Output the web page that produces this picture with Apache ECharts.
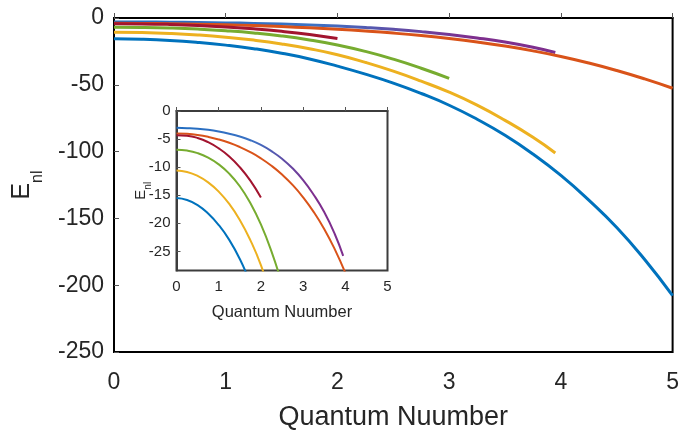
<!DOCTYPE html>
<html>
<head>
<meta charset="utf-8">
<script src="https://cdn.jsdelivr.net/npm/echarts@6/dist/echarts.min.js"></script>
<style>
  html, body { margin: 0; padding: 0; background: #fff; }
  #chart { width: 682px; height: 436px; }
</style>
</head>
<body>
<div id="chart"></div>
<script>
// quantum number samples (x) and energies E_nl
const qnLong = [0, 0.25, 0.5, 0.75, 1, 1.25, 1.5, 1.75, 2, 2.25, 2.5, 2.75, 3, 3.25, 3.5, 3.75, 4, 4.25, 4.5, 4.75, 5]
const qnFour = [0, 0.25, 0.5, 0.75, 1, 1.25, 1.5, 1.75, 2, 2.25, 2.5, 2.75, 3, 3.25, 3.5, 3.75, 3.95]
const qnThree = [0, 0.25, 0.5, 0.75, 1, 1.25, 1.5, 1.75, 2, 2.25, 2.5, 2.75, 3]
const qnTwo = [0, 0.25, 0.5, 0.75, 1, 1.25, 1.5, 1.75, 2]

const blueE = [-15.5, -15.85, -16.75, -18.25, -20.3, -22.95, -26.35, -30.65, -36.05, -42.05, -48.75,
  -56.5, -65.3, -75.8, -87.8, -101.8, -117.8, -136.3, -156.8, -180.8, -207.8]
const orangeE = [-4.0, -4.07, -4.27, -4.6, -5.06, -5.66, -6.41, -7.33, -8.43, -9.75, -11.31,
  -13.16, -15.36, -17.96, -21.01, -24.61, -28.81, -33.71, -39.31, -45.61, -52.6]
const yellowE = [-10.6, -10.85, -11.55, -12.7, -14.35, -16.55, -19.4, -23.0, -27.45, -33.2, -39.8,
  -47.3, -55.5, -65.2, -76.6, -89.3, -101]
const purpleE = [-3.0, -3.05, -3.15, -3.35, -3.65, -4.05, -4.55, -5.2, -6.05, -7.15, -8.5,
  -10.2, -12.3, -14.9, -18.0, -21.9, -25.8]
const greenE = [-6.9, -7.05, -7.5, -8.3, -9.5, -11.15, -13.4, -16.4, -20.2, -25.0, -30.8, -37.6, -45.2]
const redE = [-4.3, -4.4, -4.8, -5.55, -6.65, -8.1, -10.0, -12.4, -15.4]

const mainYTicks = [0, -50, -100, -150, -200, -250]
const insetYMin = -28.4

const FONT = "'Liberation Sans', Arial, sans-serif"
const TXT = '#262626'

const chart = echarts.init(document.getElementById('chart'))

// top curve fades from blue into purple
const topGradient = new echarts.graphic.LinearGradient(0, 0, 1, 0, [
  { offset: 0, color: '#1f6cc0' },
  { offset: 0.45, color: '#3b72c4' },
  { offset: 0.8, color: '#7E2F8E' },
  { offset: 1, color: '#7E2F8E' }
])

const curves = [
  { name: 'top', xs: qnFour, ys: purpleE, color: topGradient },
  { name: 'orange', xs: qnLong, ys: orangeE, color: '#D95319' },
  { name: 'red', xs: qnTwo, ys: redE, color: '#A2142F' },
  { name: 'green', xs: qnThree, ys: greenE, color: '#77AC30' },
  { name: 'yellow', xs: qnFour, ys: yellowE, color: '#EDB120' },
  { name: 'blue', xs: qnLong, ys: blueE, color: '#0072BD' }
]

const series = []
curves.forEach(c => {
  const pts = c.xs.map((x, i) => [x, c.ys[i]])
  series.push({
    type: 'line', name: c.name, xAxisIndex: 0, yAxisIndex: 0,
    data: pts, smooth: 0.5, showSymbol: false, symbol: 'none',
    lineStyle: { color: c.color, width: 3 }
  })
  series.push({
    type: 'line', name: c.name + '-inset', xAxisIndex: 1, yAxisIndex: 1,
    data: pts, smooth: 0.5, showSymbol: false, symbol: 'none', clip: true,
    lineStyle: { color: c.color, width: 2 }
  })
})

const option = {
  animation: false,
  backgroundColor: '#fff',
  grid: [
    { left: 114, top: 18, right: 3, bottom: 82, show: true, borderColor: '#000', borderWidth: 2, backgroundColor: 'transparent' },
    { left: 176.5, top: 111, width: 211, height: 159.5, show: true, borderColor: '#3c3c3c', borderWidth: 2, backgroundColor: '#fff' }
  ],
  xAxis: [
    {
      type: 'value', gridIndex: 0, min: 0, max: 5, interval: 1,
      axisLine: { lineStyle: { color: '#000', width: 2 } },
      axisTick: { inside: true, length: 5, lineStyle: { color: '#555', width: 1 } },
      splitLine: { show: false },
      axisLabel: { margin: 19, fontSize: 23, fontFamily: FONT, color: TXT },
      name: 'Quantum Nuumber', nameLocation: 'middle', nameGap: 52,
      nameTextStyle: { fontSize: 27, fontFamily: FONT, color: TXT }
    },
    {
      type: 'value', gridIndex: 1, min: 0, max: 5, interval: 1,
      axisLine: { lineStyle: { color: '#3c3c3c', width: 2 } },
      axisTick: { inside: true, length: 4, lineStyle: { color: '#555', width: 1 } },
      splitLine: { show: false },
      axisLabel: { margin: 9, fontSize: 15, fontFamily: FONT, color: TXT },
      name: 'Quantum Nuumber', nameLocation: 'middle', nameGap: 33,
      nameTextStyle: { fontSize: 16.5, fontFamily: FONT, color: TXT }
    }
  ],
  yAxis: [
    {
      type: 'value', gridIndex: 0, min: mainYTicks[mainYTicks.length - 1], max: mainYTicks[0], interval: 50,
      axisLine: { lineStyle: { color: '#000', width: 2 } },
      axisTick: { inside: true, length: 5, lineStyle: { color: '#555', width: 1 } },
      splitLine: { show: false },
      axisLabel: { margin: 10, fontSize: 23, fontFamily: FONT, color: TXT },
      name: '{e|E}{s|nl}', nameLocation: 'middle', nameGap: 68, nameRotate: 90, nameMoveOverlap: false,
      nameTextStyle: {
        fontFamily: FONT, color: TXT,
        rich: {
          e: { fontSize: 25, fontFamily: FONT, color: TXT, lineHeight: 36, verticalAlign: 'top' },
          s: { fontSize: 16, fontFamily: FONT, color: TXT, lineHeight: 16, verticalAlign: 'bottom' }
        }
      }
    },
    {
      type: 'value', gridIndex: 1, min: insetYMin, max: 0, splitNumber: 5,
      axisLine: { lineStyle: { color: '#3c3c3c', width: 2 } },
      axisTick: { inside: true, length: 4, lineStyle: { color: '#555', width: 1 } },
      splitLine: { show: false },
      axisLabel: {
        margin: 6, fontSize: 15, fontFamily: FONT, color: TXT, showMinLabel: false,
        formatter: v => (Math.abs(v % 5) < 1e-6 ? String(v) : '')
      },
      name: '{e|E}{s|nl}', nameLocation: 'middle', nameGap: 23, nameRotate: 90, nameMoveOverlap: false,
      nameTextStyle: {
        fontFamily: FONT, color: TXT,
        rich: {
          e: { fontSize: 15, fontFamily: FONT, color: TXT, lineHeight: 20, verticalAlign: 'top' },
          s: { fontSize: 10, fontFamily: FONT, color: TXT, lineHeight: 10, verticalAlign: 'bottom' }
        }
      }
    }
  ],
  series: series
}

chart.setOption(option)
</script>
</body>
</html>
